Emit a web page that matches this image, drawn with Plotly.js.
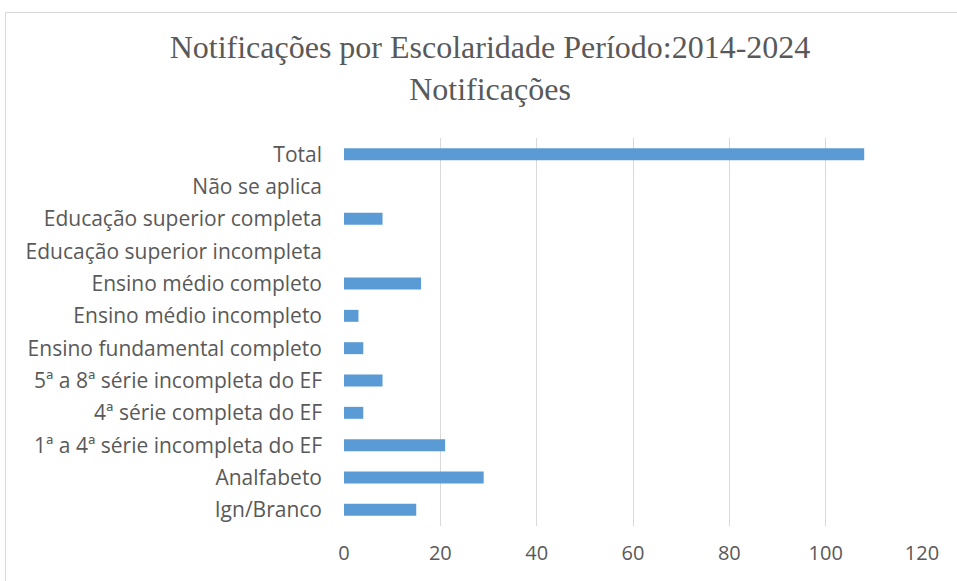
<!DOCTYPE html>
<html><head><meta charset="utf-8">
<script src="https://cdn.plot.ly/plotly-3.0.1.min.js"></script>
<style>
body{margin:0;padding:0;background:#fff;}
#chart{width:957px;height:581px;}
#frame{position:absolute;left:5px;top:12px;width:960px;height:600px;border:1px solid #d9d9d9;pointer-events:none;}
</style></head>
<body>
<div id="chart"></div>
<div id="frame"></div>
<script>
var categories = ["Ign/Branco","Analfabeto","1ª a 4ª série incompleta do EF","4ª série completa do EF","5ª a 8ª série incompleta do EF","Ensino fundamental completo","Ensino médio incompleto","Ensino médio completo","Educação superior incompleta","Educação superior completa","Não se aplica","Total"];
var notificacoes = [15,29,21,4,8,4,3,16,0,8,0,108];
var xTicks = [0,20,40,60,80,100,120];

var trace = {
  type:'bar', orientation:'h', y:categories, x:notificacoes,
  marker:{color:'#5b9bd5'}, width:0.37, hoverinfo:'x+y'
};
var layout = {
  width:957, height:581,
  margin:{l:344, r:35, t:138, b:55},
  paper_bgcolor:'#fff', plot_bgcolor:'#fff',
  showlegend:false,
  title:{text:'Notificações por Escolaridade Período:2014-2024<br>Notificações',
    font:{family:'Liberation Serif, Times New Roman, serif', size:32, color:'#595959'},
    x:0.512, xref:'container', xanchor:'center', y:0.9, yref:'container', yanchor:'middle'},
  xaxis:{range:[0,120], tickvals:xTicks, ticktext:xTicks.map(String), showgrid:true, gridcolor:'#d9d9d9', gridwidth:1.3,
    zeroline:false, showline:false, ticks:'', ticklabelstandoff:13,
    tickfont:{family:'Open Sans, Lato, sans-serif', size:20, color:'#595959'}},
  yaxis:{type:'category', categoryorder:'array', categoryarray:categories, showgrid:false, zeroline:false,
    showline:false, ticks:'', ticklabelstandoff:21,
    tickfont:{family:'Open Sans, Lato, sans-serif', size:21, color:'#595959'}}
};
Plotly.newPlot('chart',[trace],layout,{displayModeBar:false});
</script>
</body></html>
